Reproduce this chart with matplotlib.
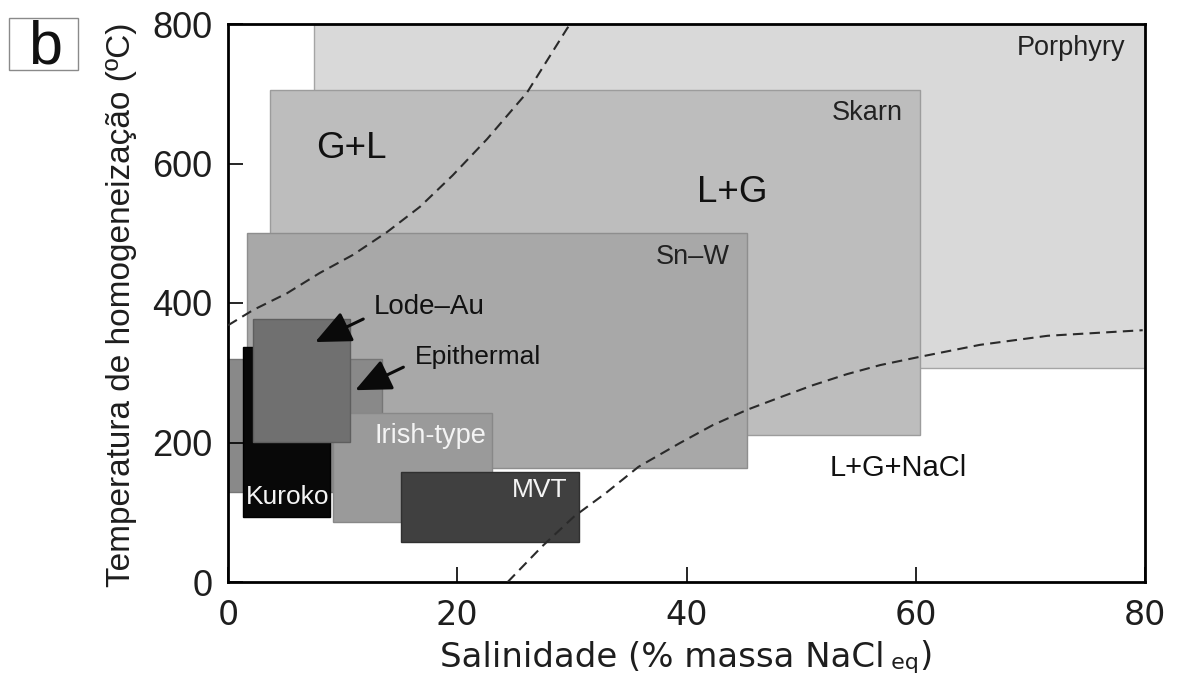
import matplotlib
matplotlib.use("Agg")
import matplotlib.pyplot as plt
from matplotlib.patches import Rectangle

# fluid-inclusion fields: salinity (wt% NaCl eq) vs homogenisation temperature (C)
deposits = ["Porphyry", "Skarn", "Sn–W", "Epithermal", "Kuroko", "Irish-type", "Lode–Au", "MVT"]
sal_min = [7.5, 3.7, 1.65, 0.0, 1.3, 9.2, 2.2, 15.1]
sal_max = [80.0, 60.4, 45.3, 13.4, 8.9, 23.0, 10.6, 30.6]
th_min = [307, 211, 163, 129, 93, 86, 201, 57]
th_max = [800, 705, 500, 320, 337, 242, 377, 158]

face = ["#d9d9d9", "#bdbdbd", "#a8a8a8", "#898989", "#080808", "#9a9a9a", "#707070", "#404040"]
edge = ["#a5a5a5", "#9c9c9c", "#8e8e8e", "#767676", "#000000", "#888888", "#5e5e5e", "#303030"]

# phase boundaries (dashed)
gl_sal = [0.0, 2.2, 5.15, 8.0, 10.9, 13.9, 16.75, 19.6, 22.6, 26.1, 29.6, 29.9]
gl_th = [368, 390, 414, 443, 469, 502, 538, 583, 635, 702, 794, 800]
nacl_sal = [24.4, 27.4, 30.2, 33.0, 35.8, 39.4, 42.3, 45.3, 48.2, 51.0, 54.0, 56.9, 60.4, 65.6, 71.5, 79.8]
nacl_th = [0, 51, 94, 128, 165, 199, 225, 247, 265, 282, 298, 311, 323, 340, 353, 361]

W, H = 1180, 686
fig = plt.figure(figsize=(W / 100, H / 100), dpi=100)
ax = fig.add_axes([228 / W, 104 / H, 917 / W, 558 / H])

for i in range(len(deposits)):
    ax.add_patch(Rectangle((sal_min[i], th_min[i]), sal_max[i] - sal_min[i], th_max[i] - th_min[i],
                           fc=face[i], ec=edge[i], lw=1.0, zorder=1 + i * 0.01))

ax.plot(gl_sal, gl_th, ls=(0, (5, 3)), color="#2a2a2a", lw=1.5, zorder=3)
ax.plot(nacl_sal, nacl_th, ls=(0, (5, 3)), color="#2a2a2a", lw=1.5, zorder=3)

ax.set_xlim(0, 80); ax.set_ylim(0, 800)
ax.set_xticks([0, 20, 40, 60, 80]); ax.set_yticks([0, 200, 400, 600, 800])
ax.tick_params(direction="in", length=11, width=1.2, top=False, right=False, labelcolor="#1e1e1e")
ax.tick_params(axis="x", pad=12, labelsize=24)
ax.tick_params(axis="y", pad=11, labelsize=26)
for lab in ax.get_xticklabels():
    lab.set_family("DejaVu Sans")
for lab in ax.get_yticklabels():
    lab.set_family("Liberation Sans")
for s in ax.spines.values():
    s.set_linewidth(2.0)

# field labels
LS = "Liberation Sans"
ax.text(78.3, 766, "Porphyry", ha="right", va="center", fontsize=19.5, family=LS, color="#222222", zorder=4)
ax.text(58.9, 672, "Skarn", ha="right", va="center", fontsize=19.5, family=LS, color="#222222", zorder=4)
ax.text(43.8, 466, "Sn–W", ha="right", va="center", fontsize=19.5, family=LS, color="#222222", zorder=4)
ax.text(10.8, 622, "G+L", ha="center", va="center", fontsize=26.5, family=LS, color="#111111", zorder=4)
ax.text(44.0, 558, "L+G", ha="center", va="center", fontsize=26.5, family=LS, color="#111111", zorder=4)
ax.text(52.5, 163, "L+G+NaCl", ha="left", va="center", fontsize=21, family=LS, color="#111111", zorder=4)
ax.text(12.7, 394, "Lode–Au", ha="left", va="center", fontsize=20, family=LS, color="#111111", zorder=4)
ax.text(16.3, 323, "Epithermal", ha="left", va="center", fontsize=19, family=LS, color="#111111", zorder=4)
ax.text(12.8, 209, "Irish-type", ha="left", va="center", fontsize=19.5, family=LS, color="#f4f4f4", zorder=4)
ax.text(1.6, 122, "Kuroko", ha="left", va="center", fontsize=19, family=LS, color="#f4f4f4", zorder=4)
ax.text(29.6, 132, "MVT", ha="right", va="center", fontsize=19, family=LS, color="#f4f4f4", zorder=4)

arrow = dict(arrowstyle="-|>,head_length=1.0,head_width=0.45", mutation_scale=22, lw=2.2, color="#0a0a0a",
             shrinkA=0, shrinkB=0)
ax.annotate("", xy=(7.6, 344), xytext=(11.8, 377), arrowprops=arrow, zorder=5)
ax.annotate("", xy=(11.1, 275), xytext=(15.3, 308), arrowprops=arrow, zorder=5)

# axis titles
ax.set_ylabel("Temperatura de homogeneização (ºC)", fontsize=24, family=LS, color="#1e1e1e", va="center")
ax.yaxis.set_label_coords(-0.1156, 0.496)

t1 = ax.text(0.231, -0.152, "Salinidade (% massa NaCl", transform=ax.transAxes,
             fontsize=24.5, family="DejaVu Sans", color="#1e1e1e", ha="left", va="baseline")
t2 = ax.annotate(" eq", xy=(1, 0.02), xycoords=t1, fontsize=16, family="DejaVu Sans",
                 color="#1e1e1e", ha="left", va="bottom", annotation_clip=False)
ax.annotate(")", xy=(1, 0), xycoords=t2, fontsize=24.5, family="DejaVu Sans",
            color="#1e1e1e", ha="left", va="bottom", annotation_clip=False)

# panel letter
fig.add_artist(Rectangle((9 / W, 1 - 70 / H), 69 / W, 52 / H, transform=fig.transFigure,
                         fill=False, ec="#8a8a8a", lw=1.0))
fig.text(45 / W, 1 - 64 / H, "b", ha="center", va="baseline", fontsize=44, family=LS, color="#111111")

fig.savefig("out.png", dpi=100)
